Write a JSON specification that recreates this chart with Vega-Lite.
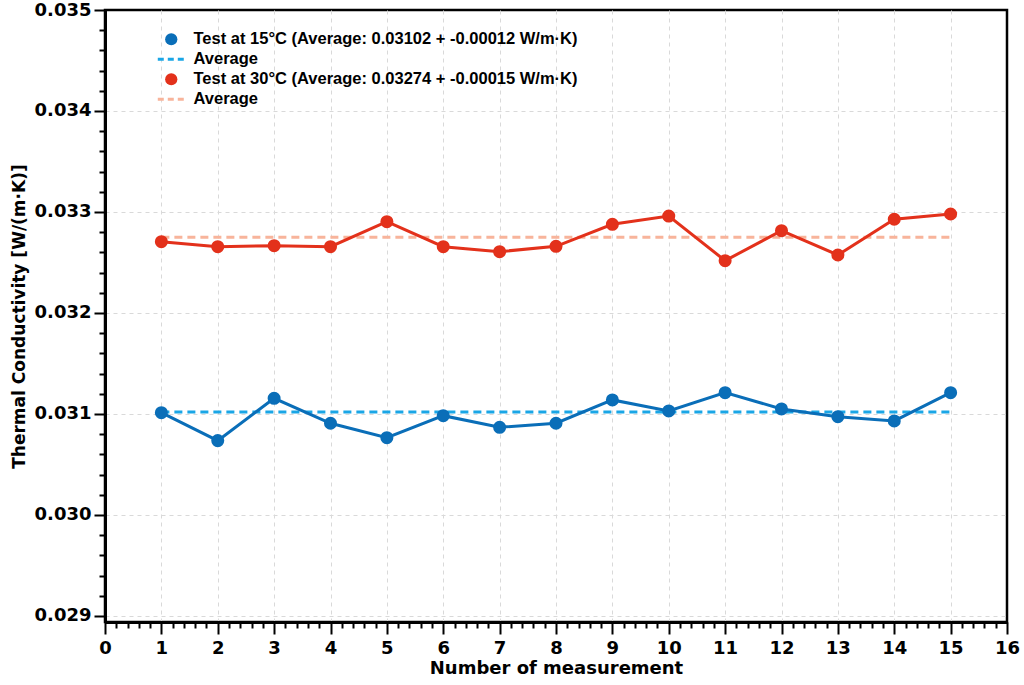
{
  "$schema": "https://vega.github.io/schema/vega-lite/v6.json",
  "width": 902,
  "height": 612,
  "autosize": "none",
  "padding": {"left": 105, "top": 10, "right": 17, "bottom": 63},
  "background": "white",
  "config": {
    "view": {"stroke": "black", "strokeWidth": 2.5},
    "axis": {
      "domainColor": "black",
      "domainWidth": 2.5,
      "tickColor": "black",
      "tickWidth": 2,
      "labelFont": "DejaVu Sans",
      "labelFontWeight": "bold",
      "labelFontSize": 18,
      "labelColor": "black",
      "labelOverlap": false,
      "labelFlush": false,
      "titleFont": "DejaVu Sans",
      "titleFontWeight": "bold",
      "titleFontSize": 17,
      "titleColor": "black",
      "gridColor": "#d9d9d9",
      "gridDash": [4, 4],
      "gridWidth": 1
    }
  },
  "datasets": {
    "meas": [
      {"n": 1, "k": 0.031013, "series": "t15"},
      {"n": 2, "k": 0.030736, "series": "t15"},
      {"n": 3, "k": 0.031155, "series": "t15"},
      {"n": 4, "k": 0.030908, "series": "t15"},
      {"n": 5, "k": 0.030765, "series": "t15"},
      {"n": 6, "k": 0.030983, "series": "t15"},
      {"n": 7, "k": 0.030868, "series": "t15"},
      {"n": 8, "k": 0.030908, "series": "t15"},
      {"n": 9, "k": 0.031139, "series": "t15"},
      {"n": 10, "k": 0.03103, "series": "t15"},
      {"n": 11, "k": 0.031211, "series": "t15"},
      {"n": 12, "k": 0.03105, "series": "t15"},
      {"n": 13, "k": 0.030973, "series": "t15"},
      {"n": 14, "k": 0.030931, "series": "t15"},
      {"n": 15, "k": 0.031211, "series": "t15"},
      {"n": 1, "k": 0.032706, "series": "t30"},
      {"n": 2, "k": 0.032656, "series": "t30"},
      {"n": 3, "k": 0.032666, "series": "t30"},
      {"n": 4, "k": 0.032656, "series": "t30"},
      {"n": 5, "k": 0.032904, "series": "t30"},
      {"n": 6, "k": 0.032656, "series": "t30"},
      {"n": 7, "k": 0.032607, "series": "t30"},
      {"n": 8, "k": 0.03266, "series": "t30"},
      {"n": 9, "k": 0.032878, "series": "t30"},
      {"n": 10, "k": 0.03296, "series": "t30"},
      {"n": 11, "k": 0.032518, "series": "t30"},
      {"n": 12, "k": 0.032815, "series": "t30"},
      {"n": 13, "k": 0.032574, "series": "t30"},
      {"n": 14, "k": 0.032928, "series": "t30"},
      {"n": 15, "k": 0.03298, "series": "t30"}
    ],
    "avg": [
      {"n": 1, "k": 0.03102, "series": "a15"},
      {"n": 15, "k": 0.03102, "series": "a15"},
      {"n": 1, "k": 0.03275, "series": "a30"},
      {"n": 15, "k": 0.03275, "series": "a30"}
    ]
  },
  "encoding": {
    "x": {
      "field": "n",
      "type": "quantitative",
      "title": "Number of measurement",
      "scale": {"domain": [0, 16], "nice": false, "zero": false},
      "axis": {
        "values": [0, 0.2, 0.4, 0.6, 0.8, 1, 1.2, 1.4, 1.6, 1.8, 2, 2.2, 2.4, 2.6, 2.8, 3, 3.2, 3.4, 3.6, 3.8, 4, 4.2, 4.4, 4.6, 4.8, 5, 5.2, 5.4, 5.6, 5.8, 6, 6.2, 6.4, 6.6, 6.8, 7, 7.2, 7.4, 7.6, 7.8, 8, 8.2, 8.4, 8.6, 8.8, 9, 9.2, 9.4, 9.6, 9.8, 10, 10.2, 10.4, 10.6, 10.8, 11, 11.2, 11.4, 11.6, 11.8, 12, 12.2, 12.4, 12.6, 12.8, 13, 13.2, 13.4, 13.6, 13.8, 14, 14.2, 14.4, 14.6, 14.8, 15, 15.2, 15.4, 15.6, 15.8, 16],
        "labelExpr": "abs(datum.value - round(datum.value)) < 0.001 ? format(datum.value, 'd') : ''",
        "tickSize": {"condition": {"test": "abs(datum.value - round(datum.value)) < 0.001", "value": 12}, "value": 6},
        "gridOpacity": {"condition": {"test": "abs(datum.value - round(datum.value)) < 0.001 && datum.value > 0.5 && datum.value < 15.5", "value": 1}, "value": 0},
        "domainWidth": 3,
        "labelPadding": 5,
        "titleFontSize": 18,
        "titlePadding": 2
      }
    },
    "y": {
      "field": "k",
      "type": "quantitative",
      "title": "Thermal Conductivity [W/(m·K)]",
      "scale": {"domain": [0.02894, 0.035], "nice": false, "zero": false},
      "axis": {
        "values": [0.029, 0.0292, 0.0294, 0.0296, 0.0298, 0.03, 0.0302, 0.0304, 0.0306, 0.0308, 0.031, 0.0312, 0.0314, 0.0316, 0.0318, 0.032, 0.0322, 0.0324, 0.0326, 0.0328, 0.033, 0.0332, 0.0334, 0.0336, 0.0338, 0.034, 0.0342, 0.0344, 0.0346, 0.0348, 0.035],
        "labelExpr": "abs(datum.value * 1000 - round(datum.value * 1000)) < 0.001 ? format(datum.value, '.3f') : ''",
        "tickSize": {"condition": {"test": "abs(datum.value * 1000 - round(datum.value * 1000)) < 0.001", "value": 11}, "value": 6},
        "gridOpacity": {"condition": {"test": "abs(datum.value * 1000 - round(datum.value * 1000)) < 0.001 && datum.value < 0.0349", "value": 1}, "value": 0},
        "domainWidth": 3,
        "labelPadding": 3,
        "titlePadding": 6
      }
    },
    "color": {
      "field": "series",
      "type": "nominal",
      "scale": {
        "domain": ["t15", "a15", "t30", "a30"],
        "range": ["#0a6eb8", "#1aa6e6", "#e3311b", "#f8b49b"]
      },
      "legend": {
        "title": null,
        "orient": "none",
        "legendX": 58,
        "legendY": 21,
        "labelFont": "Liberation Sans",
        "labelFontWeight": "bold",
        "labelFontSize": 16.5,
        "labelColor": "black",
        "labelLimit": 700,
        "labelOffset": 14,
        "rowPadding": 3,
        "symbolSize": 150,
        "labelExpr": "datum.value == 't15' ? 'Test at 15°C (Average: 0.03102 + -0.00012 W/m·K)' : datum.value == 't30' ? 'Test at 30°C (Average: 0.03274 + -0.00015 W/m·K)' : 'Average'",
        "encode": {
          "symbols": {
            "update": {
              "shape": {"signal": "indexof(['a15','a30'], datum.value) >= 0 ? 'M-2.2,0L2.2,0' : 'circle'"},
              "fill": {"signal": "indexof(['a15','a30'], datum.value) >= 0 ? 'transparent' : scale('color', datum.value)"},
              "stroke": {"signal": "scale('color', datum.value)"},
              "strokeWidth": {"signal": "indexof(['a15','a30'], datum.value) >= 0 ? 3 : 0"},
              "strokeDash": {"signal": "indexof(['a15','a30'], datum.value) >= 0 ? [6, 4] : [1, 0]"},
              "opacity": {"value": 1},
              "fillOpacity": {"value": 1},
              "strokeOpacity": {"value": 1}
            }
          }
        }
      }
    }
  },
  "layer": [
    {
      "data": {"name": "avg"},
      "mark": {"type": "line", "strokeWidth": 3, "strokeDash": [8, 5]},
      "encoding": {}
    },
    {
      "data": {"name": "meas"},
      "mark": {"type": "line", "strokeWidth": 3},
      "encoding": {}
    },
    {
      "data": {"name": "meas"},
      "mark": {"type": "point", "filled": true, "size": 170, "opacity": 1},
      "encoding": {}
    }
  ]
}
